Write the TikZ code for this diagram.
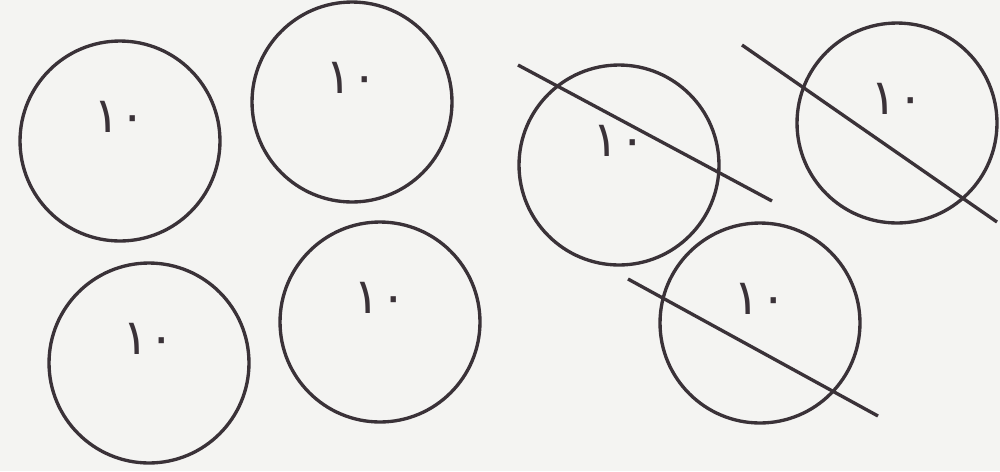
\documentclass[tikz,border=0pt]{standalone}
\usepackage{fontspec}
\newfontfamily\arabicfont[Script=Arabic]{DejaVu Sans}
\definecolor{paper}{RGB}{244,244,242}
\definecolor{ink}{RGB}{58,50,56}
\begin{document}
\begin{tikzpicture}[x=0.02cm,y=-0.02cm,coin/.style={circle,draw=ink,line width=1.9pt,minimum size=4cm,inner sep=0pt},num/.style={text=ink,font=\arabicfont\fontsize{28pt}{30pt}\selectfont,inner sep=0pt},cut/.style={draw=ink,line width=1.9pt}]
\fill[paper] (0,0) rectangle (1000,471);
\useasboundingbox (0,0) rectangle (1000,471);
\foreach \i/\x/\y in %
{1/120/141,2/352/102,3/149/363,4/380/322,5/619/165,6/897/123,7/760/323} {
   \node[coin] (c\i) at (\x,\y) {};
   \node[num] (n\i) at (\x,\y-24) {١٠};
}
\foreach \i/\ax/\ay/\bx/\by in %
{5/518/65/772/201,6/742/45/997/222,7/628/279/878/416} {
   \coordinate (a\i) at (\ax,\ay);
   \coordinate (b\i) at (\bx,\by);
   \draw[cut] (a\i) -- (b\i);
}
\end{tikzpicture}
\end{document}
